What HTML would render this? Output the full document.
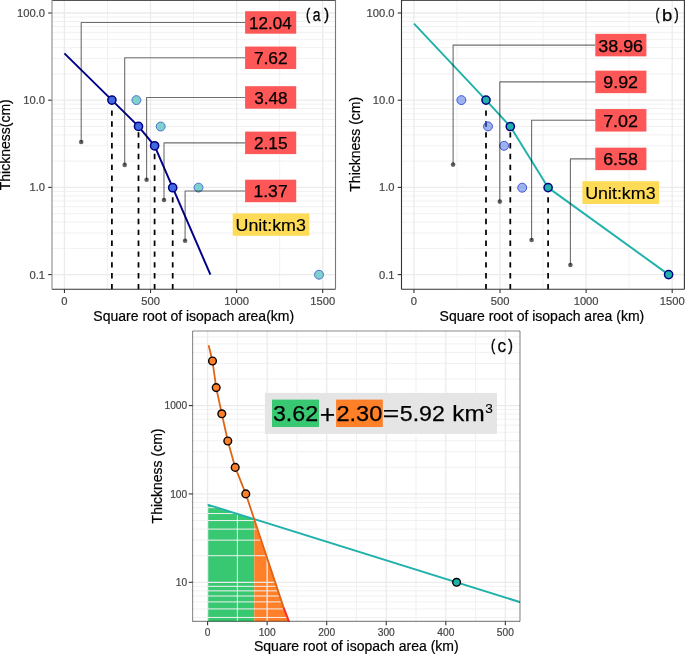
<!DOCTYPE html>
<html><head><meta charset="utf-8"><style>
html,body{margin:0;padding:0;background:#fff;overflow:hidden;}
svg{display:block;font-family:"Liberation Sans", sans-serif;will-change:transform;}
</style></head><body>
<svg width="685" height="654" viewBox="0 0 685 654">
<rect width="685" height="654" fill="#fff"/>
<line x1="52" y1="248.35" x2="335.5" y2="248.35" stroke="#F1F1F1" stroke-width="1"/>
<line x1="52" y1="233" x2="335.5" y2="233" stroke="#F1F1F1" stroke-width="1"/>
<line x1="52" y1="222.1" x2="335.5" y2="222.1" stroke="#F1F1F1" stroke-width="1"/>
<line x1="52" y1="213.65" x2="335.5" y2="213.65" stroke="#F1F1F1" stroke-width="1"/>
<line x1="52" y1="206.75" x2="335.5" y2="206.75" stroke="#F1F1F1" stroke-width="1"/>
<line x1="52" y1="200.91" x2="335.5" y2="200.91" stroke="#F1F1F1" stroke-width="1"/>
<line x1="52" y1="195.85" x2="335.5" y2="195.85" stroke="#F1F1F1" stroke-width="1"/>
<line x1="52" y1="191.39" x2="335.5" y2="191.39" stroke="#F1F1F1" stroke-width="1"/>
<line x1="52" y1="161.15" x2="335.5" y2="161.15" stroke="#F1F1F1" stroke-width="1"/>
<line x1="52" y1="145.8" x2="335.5" y2="145.8" stroke="#F1F1F1" stroke-width="1"/>
<line x1="52" y1="134.9" x2="335.5" y2="134.9" stroke="#F1F1F1" stroke-width="1"/>
<line x1="52" y1="126.45" x2="335.5" y2="126.45" stroke="#F1F1F1" stroke-width="1"/>
<line x1="52" y1="119.55" x2="335.5" y2="119.55" stroke="#F1F1F1" stroke-width="1"/>
<line x1="52" y1="113.71" x2="335.5" y2="113.71" stroke="#F1F1F1" stroke-width="1"/>
<line x1="52" y1="108.65" x2="335.5" y2="108.65" stroke="#F1F1F1" stroke-width="1"/>
<line x1="52" y1="104.19" x2="335.5" y2="104.19" stroke="#F1F1F1" stroke-width="1"/>
<line x1="52" y1="73.95" x2="335.5" y2="73.95" stroke="#F1F1F1" stroke-width="1"/>
<line x1="52" y1="58.6" x2="335.5" y2="58.6" stroke="#F1F1F1" stroke-width="1"/>
<line x1="52" y1="47.7" x2="335.5" y2="47.7" stroke="#F1F1F1" stroke-width="1"/>
<line x1="52" y1="39.25" x2="335.5" y2="39.25" stroke="#F1F1F1" stroke-width="1"/>
<line x1="52" y1="32.35" x2="335.5" y2="32.35" stroke="#F1F1F1" stroke-width="1"/>
<line x1="52" y1="26.51" x2="335.5" y2="26.51" stroke="#F1F1F1" stroke-width="1"/>
<line x1="52" y1="21.45" x2="335.5" y2="21.45" stroke="#F1F1F1" stroke-width="1"/>
<line x1="52" y1="16.99" x2="335.5" y2="16.99" stroke="#F1F1F1" stroke-width="1"/>
<line x1="107.49" y1="0" x2="107.49" y2="289.3" stroke="#F1F1F1" stroke-width="1"/>
<line x1="193.57" y1="0" x2="193.57" y2="289.3" stroke="#F1F1F1" stroke-width="1"/>
<line x1="279.65" y1="0" x2="279.65" y2="289.3" stroke="#F1F1F1" stroke-width="1"/>
<line x1="52" y1="274.6" x2="335.5" y2="274.6" stroke="#EBEBEB" stroke-width="1.3"/>
<line x1="52" y1="187.4" x2="335.5" y2="187.4" stroke="#EBEBEB" stroke-width="1.3"/>
<line x1="52" y1="100.2" x2="335.5" y2="100.2" stroke="#EBEBEB" stroke-width="1.3"/>
<line x1="52" y1="13" x2="335.5" y2="13" stroke="#EBEBEB" stroke-width="1.3"/>
<line x1="64.45" y1="0" x2="64.45" y2="289.3" stroke="#EBEBEB" stroke-width="1.3"/>
<line x1="150.53" y1="0" x2="150.53" y2="289.3" stroke="#EBEBEB" stroke-width="1.3"/>
<line x1="236.61" y1="0" x2="236.61" y2="289.3" stroke="#EBEBEB" stroke-width="1.3"/>
<line x1="322.69" y1="0" x2="322.69" y2="289.3" stroke="#EBEBEB" stroke-width="1.3"/>
<line x1="48.2" y1="274.6" x2="52" y2="274.6" stroke="#333333" stroke-width="1.1"/>
<text x="45.1" y="278.6" font-size="11.2" fill="#454545" text-anchor="end" stroke="#454545" stroke-width="0.2">0.1</text>
<line x1="48.2" y1="187.4" x2="52" y2="187.4" stroke="#333333" stroke-width="1.1"/>
<text x="45.1" y="191.4" font-size="11.2" fill="#454545" text-anchor="end" stroke="#454545" stroke-width="0.2">1.0</text>
<line x1="48.2" y1="100.2" x2="52" y2="100.2" stroke="#333333" stroke-width="1.1"/>
<text x="45.1" y="104.2" font-size="11.2" fill="#454545" text-anchor="end" stroke="#454545" stroke-width="0.2">10.0</text>
<line x1="48.2" y1="13" x2="52" y2="13" stroke="#333333" stroke-width="1.1"/>
<text x="45.1" y="17" font-size="11.2" fill="#454545" text-anchor="end" stroke="#454545" stroke-width="0.2">100.0</text>
<line x1="64.45" y1="289.3" x2="64.45" y2="293.1" stroke="#333333" stroke-width="1.1"/>
<text x="64.45" y="304.6" font-size="11.2" fill="#454545" text-anchor="middle" stroke="#454545" stroke-width="0.2">0</text>
<line x1="150.53" y1="289.3" x2="150.53" y2="293.1" stroke="#333333" stroke-width="1.1"/>
<text x="150.53" y="304.6" font-size="11.2" fill="#454545" text-anchor="middle" stroke="#454545" stroke-width="0.2">500</text>
<line x1="236.61" y1="289.3" x2="236.61" y2="293.1" stroke="#333333" stroke-width="1.1"/>
<text x="236.61" y="304.6" font-size="11.2" fill="#454545" text-anchor="middle" stroke="#454545" stroke-width="0.2">1000</text>
<line x1="322.69" y1="289.3" x2="322.69" y2="293.1" stroke="#333333" stroke-width="1.1"/>
<text x="322.69" y="304.6" font-size="11.2" fill="#454545" text-anchor="middle" stroke="#454545" stroke-width="0.2">1500</text>
<text x="193.75" y="320.5" font-size="14" fill="#000" text-anchor="middle" stroke="#000" stroke-width="0.2">Square root of isopach area(km)</text>
<text x="0" y="0" font-size="14" fill="#000" text-anchor="middle" stroke="#000" stroke-width="0.2" transform="translate(9.9,144.75) rotate(-90)">Thickness(cm)</text>
<line x1="111.9" y1="289.3" x2="111.9" y2="104.7" stroke="#000" stroke-width="1.75" stroke-dasharray="5.4 5.44"/>
<line x1="138.5" y1="289.3" x2="138.5" y2="131" stroke="#000" stroke-width="1.75" stroke-dasharray="5.4 5.44"/>
<line x1="154.6" y1="289.3" x2="154.6" y2="150.4" stroke="#000" stroke-width="1.75" stroke-dasharray="5.4 5.44"/>
<line x1="172.7" y1="289.3" x2="172.7" y2="192.3" stroke="#000" stroke-width="1.75" stroke-dasharray="5.4 5.44"/>
<polyline points="64.4,53.4 111.9,100.1 138.5,126.4 154.6,145.8 172.7,187.7 210.4,274.6" fill="none" stroke="#00008B" stroke-width="1.95" stroke-linejoin="round"/>
<circle cx="136.4" cy="100.1" r="4.45" fill="#7FD1CB" stroke="#4A6FD0" stroke-width="1"/>
<circle cx="160.7" cy="126.5" r="4.45" fill="#7FD1CB" stroke="#4A6FD0" stroke-width="1"/>
<circle cx="198.5" cy="187.6" r="4.45" fill="#7FD1CB" stroke="#4A6FD0" stroke-width="1"/>
<circle cx="319" cy="274.7" r="4.45" fill="#7FD1CB" stroke="#4A6FD0" stroke-width="1"/>
<circle cx="111.9" cy="100.1" r="4.1" fill="#4169E1" stroke="#000080" stroke-width="1.5"/>
<circle cx="138.5" cy="126.4" r="4.1" fill="#4169E1" stroke="#000080" stroke-width="1.5"/>
<circle cx="154.6" cy="145.8" r="4.1" fill="#4169E1" stroke="#000080" stroke-width="1.5"/>
<circle cx="172.7" cy="187.7" r="4.1" fill="#4169E1" stroke="#000080" stroke-width="1.5"/>
<polyline points="81.2,142 81.2,22.45 245.2,22.45" fill="none" stroke="rgba(0,0,0,0.57)" stroke-width="1.1" stroke-linejoin="round"/>
<circle cx="81.2" cy="142" r="2.3" fill="rgba(0,0,0,0.62)" stroke="none" stroke-width="0"/>
<polyline points="124.7,164.9 124.7,57.8 245.2,57.8" fill="none" stroke="rgba(0,0,0,0.57)" stroke-width="1.1" stroke-linejoin="round"/>
<circle cx="124.7" cy="164.9" r="2.3" fill="rgba(0,0,0,0.62)" stroke="none" stroke-width="0"/>
<polyline points="146.6,179.8 146.6,97.45 245.2,97.45" fill="none" stroke="rgba(0,0,0,0.57)" stroke-width="1.1" stroke-linejoin="round"/>
<circle cx="146.6" cy="179.8" r="2.3" fill="rgba(0,0,0,0.62)" stroke="none" stroke-width="0"/>
<polyline points="164,200 164,142.85 245.2,142.85" fill="none" stroke="rgba(0,0,0,0.57)" stroke-width="1.1" stroke-linejoin="round"/>
<circle cx="164" cy="200" r="2.3" fill="rgba(0,0,0,0.62)" stroke="none" stroke-width="0"/>
<polyline points="185.1,240.7 185.1,190.95 245.2,190.95" fill="none" stroke="rgba(0,0,0,0.57)" stroke-width="1.1" stroke-linejoin="round"/>
<circle cx="185.1" cy="240.7" r="2.3" fill="rgba(0,0,0,0.62)" stroke="none" stroke-width="0"/>
<rect x="245.1" y="11.2" width="51.1" height="22.5" fill="#FD5757"/>
<text x="249.11" y="28.89" font-size="15.68" fill="#000" textLength="42.61" lengthAdjust="spacingAndGlyphs" stroke="#000" stroke-width="0.25">12.04</text>
<rect x="245.1" y="46.55" width="51.1" height="22.5" fill="#FD5757"/>
<text x="253.9" y="64.24" font-size="15.68" fill="#000" textLength="33.78" lengthAdjust="spacingAndGlyphs" stroke="#000" stroke-width="0.25">7.62</text>
<rect x="245.1" y="86.2" width="51.1" height="22.5" fill="#FD5757"/>
<text x="254.15" y="103.89" font-size="15.68" fill="#000" textLength="33.41" lengthAdjust="spacingAndGlyphs" stroke="#000" stroke-width="0.25">3.48</text>
<rect x="245.1" y="131.6" width="51.1" height="22.5" fill="#FD5757"/>
<text x="253.94" y="149.29" font-size="15.68" fill="#000" textLength="33.59" lengthAdjust="spacingAndGlyphs" stroke="#000" stroke-width="0.25">2.15</text>
<rect x="245.1" y="179.7" width="51.1" height="22.5" fill="#FD5757"/>
<text x="253.46" y="197.39" font-size="15.68" fill="#000" textLength="34.22" lengthAdjust="spacingAndGlyphs" stroke="#000" stroke-width="0.25">1.37</text>
<rect x="232.7" y="213.4" width="76.7" height="22.4" fill="#FDDB57"/>
<text x="235.51" y="230.84" font-size="16.08" fill="#000" textLength="70.36" lengthAdjust="spacingAndGlyphs" stroke="#000" stroke-width="0.15">Unit:km3</text>
<text x="306.12" y="19.99" font-size="16.42" fill="#000" textLength="4.16" lengthAdjust="spacingAndGlyphs" stroke="#000" stroke-width="0.4">(</text>
<text x="312.81" y="21.22" font-size="18.07" fill="#000" textLength="7.79" lengthAdjust="spacingAndGlyphs" stroke="#000" stroke-width="0.25">a</text>
<text x="324.31" y="19.99" font-size="16.42" fill="#000" textLength="4.79" lengthAdjust="spacingAndGlyphs" stroke="#000" stroke-width="0.4">)</text>
<line x1="52" y1="0.45" x2="335.5" y2="0.45" stroke="#333" stroke-width="0.9"/>
<line x1="52" y1="289.3" x2="335.5" y2="289.3" stroke="#333" stroke-width="1.1"/>
<line x1="52" y1="0" x2="52" y2="289.3" stroke="#8a8a8a" stroke-width="1.1"/>
<line x1="335.5" y1="0" x2="335.5" y2="289.3" stroke="#777" stroke-width="1.1"/>
<line x1="401.5" y1="248.35" x2="684.4" y2="248.35" stroke="#F1F1F1" stroke-width="1"/>
<line x1="401.5" y1="233" x2="684.4" y2="233" stroke="#F1F1F1" stroke-width="1"/>
<line x1="401.5" y1="222.1" x2="684.4" y2="222.1" stroke="#F1F1F1" stroke-width="1"/>
<line x1="401.5" y1="213.65" x2="684.4" y2="213.65" stroke="#F1F1F1" stroke-width="1"/>
<line x1="401.5" y1="206.75" x2="684.4" y2="206.75" stroke="#F1F1F1" stroke-width="1"/>
<line x1="401.5" y1="200.91" x2="684.4" y2="200.91" stroke="#F1F1F1" stroke-width="1"/>
<line x1="401.5" y1="195.85" x2="684.4" y2="195.85" stroke="#F1F1F1" stroke-width="1"/>
<line x1="401.5" y1="191.39" x2="684.4" y2="191.39" stroke="#F1F1F1" stroke-width="1"/>
<line x1="401.5" y1="161.15" x2="684.4" y2="161.15" stroke="#F1F1F1" stroke-width="1"/>
<line x1="401.5" y1="145.8" x2="684.4" y2="145.8" stroke="#F1F1F1" stroke-width="1"/>
<line x1="401.5" y1="134.9" x2="684.4" y2="134.9" stroke="#F1F1F1" stroke-width="1"/>
<line x1="401.5" y1="126.45" x2="684.4" y2="126.45" stroke="#F1F1F1" stroke-width="1"/>
<line x1="401.5" y1="119.55" x2="684.4" y2="119.55" stroke="#F1F1F1" stroke-width="1"/>
<line x1="401.5" y1="113.71" x2="684.4" y2="113.71" stroke="#F1F1F1" stroke-width="1"/>
<line x1="401.5" y1="108.65" x2="684.4" y2="108.65" stroke="#F1F1F1" stroke-width="1"/>
<line x1="401.5" y1="104.19" x2="684.4" y2="104.19" stroke="#F1F1F1" stroke-width="1"/>
<line x1="401.5" y1="73.95" x2="684.4" y2="73.95" stroke="#F1F1F1" stroke-width="1"/>
<line x1="401.5" y1="58.6" x2="684.4" y2="58.6" stroke="#F1F1F1" stroke-width="1"/>
<line x1="401.5" y1="47.7" x2="684.4" y2="47.7" stroke="#F1F1F1" stroke-width="1"/>
<line x1="401.5" y1="39.25" x2="684.4" y2="39.25" stroke="#F1F1F1" stroke-width="1"/>
<line x1="401.5" y1="32.35" x2="684.4" y2="32.35" stroke="#F1F1F1" stroke-width="1"/>
<line x1="401.5" y1="26.51" x2="684.4" y2="26.51" stroke="#F1F1F1" stroke-width="1"/>
<line x1="401.5" y1="21.45" x2="684.4" y2="21.45" stroke="#F1F1F1" stroke-width="1"/>
<line x1="401.5" y1="16.99" x2="684.4" y2="16.99" stroke="#F1F1F1" stroke-width="1"/>
<line x1="456.99" y1="0" x2="456.99" y2="289.3" stroke="#F1F1F1" stroke-width="1"/>
<line x1="543.07" y1="0" x2="543.07" y2="289.3" stroke="#F1F1F1" stroke-width="1"/>
<line x1="629.15" y1="0" x2="629.15" y2="289.3" stroke="#F1F1F1" stroke-width="1"/>
<line x1="401.5" y1="274.6" x2="684.4" y2="274.6" stroke="#EBEBEB" stroke-width="1.3"/>
<line x1="401.5" y1="187.4" x2="684.4" y2="187.4" stroke="#EBEBEB" stroke-width="1.3"/>
<line x1="401.5" y1="100.2" x2="684.4" y2="100.2" stroke="#EBEBEB" stroke-width="1.3"/>
<line x1="401.5" y1="13" x2="684.4" y2="13" stroke="#EBEBEB" stroke-width="1.3"/>
<line x1="413.95" y1="0" x2="413.95" y2="289.3" stroke="#EBEBEB" stroke-width="1.3"/>
<line x1="500.03" y1="0" x2="500.03" y2="289.3" stroke="#EBEBEB" stroke-width="1.3"/>
<line x1="586.11" y1="0" x2="586.11" y2="289.3" stroke="#EBEBEB" stroke-width="1.3"/>
<line x1="672.19" y1="0" x2="672.19" y2="289.3" stroke="#EBEBEB" stroke-width="1.3"/>
<line x1="397.7" y1="274.6" x2="401.5" y2="274.6" stroke="#333333" stroke-width="1.1"/>
<text x="394.6" y="278.6" font-size="11.2" fill="#454545" text-anchor="end" stroke="#454545" stroke-width="0.2">0.1</text>
<line x1="397.7" y1="187.4" x2="401.5" y2="187.4" stroke="#333333" stroke-width="1.1"/>
<text x="394.6" y="191.4" font-size="11.2" fill="#454545" text-anchor="end" stroke="#454545" stroke-width="0.2">1.0</text>
<line x1="397.7" y1="100.2" x2="401.5" y2="100.2" stroke="#333333" stroke-width="1.1"/>
<text x="394.6" y="104.2" font-size="11.2" fill="#454545" text-anchor="end" stroke="#454545" stroke-width="0.2">10.0</text>
<line x1="397.7" y1="13" x2="401.5" y2="13" stroke="#333333" stroke-width="1.1"/>
<text x="394.6" y="17" font-size="11.2" fill="#454545" text-anchor="end" stroke="#454545" stroke-width="0.2">100.0</text>
<line x1="413.95" y1="289.3" x2="413.95" y2="293.1" stroke="#333333" stroke-width="1.1"/>
<text x="413.95" y="304.6" font-size="11.2" fill="#454545" text-anchor="middle" stroke="#454545" stroke-width="0.2">0</text>
<line x1="500.03" y1="289.3" x2="500.03" y2="293.1" stroke="#333333" stroke-width="1.1"/>
<text x="500.03" y="304.6" font-size="11.2" fill="#454545" text-anchor="middle" stroke="#454545" stroke-width="0.2">500</text>
<line x1="586.11" y1="289.3" x2="586.11" y2="293.1" stroke="#333333" stroke-width="1.1"/>
<text x="586.11" y="304.6" font-size="11.2" fill="#454545" text-anchor="middle" stroke="#454545" stroke-width="0.2">1000</text>
<line x1="672.19" y1="289.3" x2="672.19" y2="293.1" stroke="#333333" stroke-width="1.1"/>
<text x="672.19" y="304.6" font-size="11.2" fill="#454545" text-anchor="middle" stroke="#454545" stroke-width="0.2">1500</text>
<text x="541.95" y="320.5" font-size="14" fill="#000" text-anchor="middle" stroke="#000" stroke-width="0.2">Square root of isopach area (km)</text>
<text x="0" y="0" font-size="14" fill="#000" text-anchor="middle" stroke="#000" stroke-width="0.2" transform="translate(360.4,144.25) rotate(-90)">Thickness (cm)</text>
<line x1="486" y1="289.3" x2="486" y2="104.7" stroke="#000" stroke-width="1.75" stroke-dasharray="5.4 5.44"/>
<line x1="510.3" y1="289.3" x2="510.3" y2="131.1" stroke="#000" stroke-width="1.75" stroke-dasharray="5.4 5.44"/>
<line x1="548.1" y1="289.3" x2="548.1" y2="192.2" stroke="#000" stroke-width="1.75" stroke-dasharray="5.4 5.44"/>
<polyline points="414,23.7 486,100.1 510.3,126.5 548.1,187.6 668.6,274.6" fill="none" stroke="#20B2AA" stroke-width="1.95" stroke-linejoin="round"/>
<circle cx="461.4" cy="100.1" r="4.45" fill="rgba(65,105,225,0.5)" stroke="#3A55D8" stroke-width="1"/>
<circle cx="488" cy="126.4" r="4.45" fill="rgba(65,105,225,0.5)" stroke="#3A55D8" stroke-width="1"/>
<circle cx="504.1" cy="145.8" r="4.45" fill="rgba(65,105,225,0.5)" stroke="#3A55D8" stroke-width="1"/>
<circle cx="522.2" cy="187.7" r="4.45" fill="rgba(65,105,225,0.5)" stroke="#3A55D8" stroke-width="1"/>
<circle cx="486" cy="100.1" r="4.1" fill="#20B2AA" stroke="#000080" stroke-width="1.5"/>
<circle cx="510.3" cy="126.5" r="4.1" fill="#20B2AA" stroke="#000080" stroke-width="1.5"/>
<circle cx="548.1" cy="187.6" r="4.1" fill="#20B2AA" stroke="#000080" stroke-width="1.5"/>
<circle cx="668.6" cy="274.6" r="4.1" fill="#20B2AA" stroke="#000080" stroke-width="1.5"/>
<polyline points="453.1,164.6 453.1,45.1 595.4,45.1" fill="none" stroke="rgba(0,0,0,0.57)" stroke-width="1.1" stroke-linejoin="round"/>
<circle cx="453.1" cy="164.6" r="2.3" fill="rgba(0,0,0,0.62)" stroke="none" stroke-width="0"/>
<polyline points="499.8,201.6 499.8,81.9 595.4,81.9" fill="none" stroke="rgba(0,0,0,0.57)" stroke-width="1.1" stroke-linejoin="round"/>
<circle cx="499.8" cy="201.6" r="2.3" fill="rgba(0,0,0,0.62)" stroke="none" stroke-width="0"/>
<polyline points="531.6,240 531.6,120.3 595.4,120.3" fill="none" stroke="rgba(0,0,0,0.57)" stroke-width="1.1" stroke-linejoin="round"/>
<circle cx="531.6" cy="240" r="2.3" fill="rgba(0,0,0,0.62)" stroke="none" stroke-width="0"/>
<polyline points="570.4,265 570.4,158.9 595.4,158.9" fill="none" stroke="rgba(0,0,0,0.57)" stroke-width="1.1" stroke-linejoin="round"/>
<circle cx="570.4" cy="265" r="2.3" fill="rgba(0,0,0,0.62)" stroke="none" stroke-width="0"/>
<rect x="595.3" y="33.85" width="51.1" height="22.5" fill="#FD5757"/>
<text x="598.22" y="51.54" font-size="15.68" fill="#000" textLength="44.88" lengthAdjust="spacingAndGlyphs" stroke="#000" stroke-width="0.25">38.96</text>
<rect x="595.3" y="70.65" width="51.1" height="22.5" fill="#FD5757"/>
<text x="603.28" y="88.34" font-size="15.68" fill="#000" textLength="34.72" lengthAdjust="spacingAndGlyphs" stroke="#000" stroke-width="0.25">9.92</text>
<rect x="595.3" y="109.05" width="51.1" height="22.5" fill="#FD5757"/>
<text x="603.17" y="126.74" font-size="15.68" fill="#000" textLength="34.83" lengthAdjust="spacingAndGlyphs" stroke="#000" stroke-width="0.25">7.02</text>
<rect x="595.3" y="147.65" width="51.1" height="22.5" fill="#FD5757"/>
<text x="603.21" y="165.34" font-size="15.68" fill="#000" textLength="34.68" lengthAdjust="spacingAndGlyphs" stroke="#000" stroke-width="0.25">6.58</text>
<rect x="582.4" y="181.2" width="76.8" height="22.8" fill="#FDDB57"/>
<text x="585.21" y="198.64" font-size="16.08" fill="#000" textLength="70.36" lengthAdjust="spacingAndGlyphs" stroke="#000" stroke-width="0.15">Unit:km3</text>
<text x="655.57" y="20.11" font-size="16.31" fill="#000" textLength="3.91" lengthAdjust="spacingAndGlyphs" stroke="#000" stroke-width="0.4">(</text>
<text x="661.92" y="21.03" font-size="17.3" fill="#000" textLength="10.26" lengthAdjust="spacingAndGlyphs" stroke="#000" stroke-width="0.25">b</text>
<text x="674.42" y="20.11" font-size="16.31" fill="#000" textLength="4.16" lengthAdjust="spacingAndGlyphs" stroke="#000" stroke-width="0.4">)</text>
<line x1="401.5" y1="0.45" x2="684.4" y2="0.45" stroke="#333" stroke-width="0.9"/>
<line x1="401.5" y1="289.3" x2="684.4" y2="289.3" stroke="#333" stroke-width="1.1"/>
<line x1="401.5" y1="0" x2="401.5" y2="289.3" stroke="#333" stroke-width="1.1"/>
<line x1="684.4" y1="0" x2="684.4" y2="289.3" stroke="#333" stroke-width="1.1"/>
<polygon points="207.6,504.6 254.3,519.18 254.3,621.4 207.6,621.4" fill="#39C872"/>
<polygon points="254.3,518.88 289,621.4 254.3,621.4" fill="#FF8028"/>
<line x1="192.6" y1="617.46" x2="520" y2="617.46" stroke="#F1F1F1" stroke-width="1"/>
<line x1="192.6" y1="608.9" x2="520" y2="608.9" stroke="#F1F1F1" stroke-width="1"/>
<line x1="192.6" y1="601.9" x2="520" y2="601.9" stroke="#F1F1F1" stroke-width="1"/>
<line x1="192.6" y1="595.99" x2="520" y2="595.99" stroke="#F1F1F1" stroke-width="1"/>
<line x1="192.6" y1="590.86" x2="520" y2="590.86" stroke="#F1F1F1" stroke-width="1"/>
<line x1="192.6" y1="586.34" x2="520" y2="586.34" stroke="#F1F1F1" stroke-width="1"/>
<line x1="192.6" y1="555.7" x2="520" y2="555.7" stroke="#F1F1F1" stroke-width="1"/>
<line x1="192.6" y1="540.15" x2="520" y2="540.15" stroke="#F1F1F1" stroke-width="1"/>
<line x1="192.6" y1="529.11" x2="520" y2="529.11" stroke="#F1F1F1" stroke-width="1"/>
<line x1="192.6" y1="520.55" x2="520" y2="520.55" stroke="#F1F1F1" stroke-width="1"/>
<line x1="192.6" y1="513.55" x2="520" y2="513.55" stroke="#F1F1F1" stroke-width="1"/>
<line x1="192.6" y1="507.64" x2="520" y2="507.64" stroke="#F1F1F1" stroke-width="1"/>
<line x1="192.6" y1="502.51" x2="520" y2="502.51" stroke="#F1F1F1" stroke-width="1"/>
<line x1="192.6" y1="497.99" x2="520" y2="497.99" stroke="#F1F1F1" stroke-width="1"/>
<line x1="192.6" y1="467.35" x2="520" y2="467.35" stroke="#F1F1F1" stroke-width="1"/>
<line x1="192.6" y1="451.8" x2="520" y2="451.8" stroke="#F1F1F1" stroke-width="1"/>
<line x1="192.6" y1="440.76" x2="520" y2="440.76" stroke="#F1F1F1" stroke-width="1"/>
<line x1="192.6" y1="432.2" x2="520" y2="432.2" stroke="#F1F1F1" stroke-width="1"/>
<line x1="192.6" y1="425.2" x2="520" y2="425.2" stroke="#F1F1F1" stroke-width="1"/>
<line x1="192.6" y1="419.29" x2="520" y2="419.29" stroke="#F1F1F1" stroke-width="1"/>
<line x1="192.6" y1="414.16" x2="520" y2="414.16" stroke="#F1F1F1" stroke-width="1"/>
<line x1="192.6" y1="409.64" x2="520" y2="409.64" stroke="#F1F1F1" stroke-width="1"/>
<line x1="192.6" y1="379" x2="520" y2="379" stroke="#F1F1F1" stroke-width="1"/>
<line x1="192.6" y1="363.45" x2="520" y2="363.45" stroke="#F1F1F1" stroke-width="1"/>
<line x1="192.6" y1="352.41" x2="520" y2="352.41" stroke="#F1F1F1" stroke-width="1"/>
<line x1="192.6" y1="343.85" x2="520" y2="343.85" stroke="#F1F1F1" stroke-width="1"/>
<line x1="192.6" y1="336.85" x2="520" y2="336.85" stroke="#F1F1F1" stroke-width="1"/>
<line x1="237.38" y1="331" x2="237.38" y2="621.4" stroke="#F1F1F1" stroke-width="1"/>
<line x1="296.93" y1="331" x2="296.93" y2="621.4" stroke="#F1F1F1" stroke-width="1"/>
<line x1="356.48" y1="331" x2="356.48" y2="621.4" stroke="#F1F1F1" stroke-width="1"/>
<line x1="416.02" y1="331" x2="416.02" y2="621.4" stroke="#F1F1F1" stroke-width="1"/>
<line x1="475.58" y1="331" x2="475.58" y2="621.4" stroke="#F1F1F1" stroke-width="1"/>
<line x1="192.6" y1="582.3" x2="520" y2="582.3" stroke="#EBEBEB" stroke-width="1.3"/>
<line x1="192.6" y1="493.95" x2="520" y2="493.95" stroke="#EBEBEB" stroke-width="1.3"/>
<line x1="192.6" y1="405.6" x2="520" y2="405.6" stroke="#EBEBEB" stroke-width="1.3"/>
<line x1="207.6" y1="331" x2="207.6" y2="621.4" stroke="#EBEBEB" stroke-width="1.3"/>
<line x1="267.15" y1="331" x2="267.15" y2="621.4" stroke="#EBEBEB" stroke-width="1.3"/>
<line x1="326.7" y1="331" x2="326.7" y2="621.4" stroke="#EBEBEB" stroke-width="1.3"/>
<line x1="386.25" y1="331" x2="386.25" y2="621.4" stroke="#EBEBEB" stroke-width="1.3"/>
<line x1="445.8" y1="331" x2="445.8" y2="621.4" stroke="#EBEBEB" stroke-width="1.3"/>
<line x1="505.35" y1="331" x2="505.35" y2="621.4" stroke="#EBEBEB" stroke-width="1.3"/>
<line x1="188.8" y1="582.3" x2="192.6" y2="582.3" stroke="#333333" stroke-width="1.1"/>
<text x="187.2" y="585.9" font-size="10.2" fill="#454545" text-anchor="end" stroke="#454545" stroke-width="0.2">10</text>
<line x1="188.8" y1="493.95" x2="192.6" y2="493.95" stroke="#333333" stroke-width="1.1"/>
<text x="187.2" y="497.55" font-size="10.2" fill="#454545" text-anchor="end" stroke="#454545" stroke-width="0.2">100</text>
<line x1="188.8" y1="405.6" x2="192.6" y2="405.6" stroke="#333333" stroke-width="1.1"/>
<text x="187.2" y="409.2" font-size="10.2" fill="#454545" text-anchor="end" stroke="#454545" stroke-width="0.2">1000</text>
<line x1="207.6" y1="621.4" x2="207.6" y2="625.2" stroke="#333333" stroke-width="1.1"/>
<text x="207.6" y="635.5" font-size="10.2" fill="#454545" text-anchor="middle" stroke="#454545" stroke-width="0.2">0</text>
<line x1="267.15" y1="621.4" x2="267.15" y2="625.2" stroke="#333333" stroke-width="1.1"/>
<text x="267.15" y="635.5" font-size="10.2" fill="#454545" text-anchor="middle" stroke="#454545" stroke-width="0.2">100</text>
<line x1="326.7" y1="621.4" x2="326.7" y2="625.2" stroke="#333333" stroke-width="1.1"/>
<text x="326.7" y="635.5" font-size="10.2" fill="#454545" text-anchor="middle" stroke="#454545" stroke-width="0.2">200</text>
<line x1="386.25" y1="621.4" x2="386.25" y2="625.2" stroke="#333333" stroke-width="1.1"/>
<text x="386.25" y="635.5" font-size="10.2" fill="#454545" text-anchor="middle" stroke="#454545" stroke-width="0.2">300</text>
<line x1="445.8" y1="621.4" x2="445.8" y2="625.2" stroke="#333333" stroke-width="1.1"/>
<text x="445.8" y="635.5" font-size="10.2" fill="#454545" text-anchor="middle" stroke="#454545" stroke-width="0.2">400</text>
<line x1="505.35" y1="621.4" x2="505.35" y2="625.2" stroke="#333333" stroke-width="1.1"/>
<text x="505.35" y="635.5" font-size="10.2" fill="#454545" text-anchor="middle" stroke="#454545" stroke-width="0.2">500</text>
<text x="356.3" y="650.6" font-size="14" fill="#000" text-anchor="middle" stroke="#000" stroke-width="0.2">Square root of isopach area (km)</text>
<text x="0" y="0" font-size="14" fill="#000" text-anchor="middle" stroke="#000" stroke-width="0.2" transform="translate(161.9,475.95) rotate(-90)">Thickness (cm)</text>
<clipPath id="cc"><rect x="192.6" y="331.0" width="327.4" height="290.4"/></clipPath>
<g clip-path="url(#cc)">
<line x1="207.6" y1="504.6" x2="522" y2="602.75" stroke="#20B2AA" stroke-width="1.95"/>
<polyline points="208.6,345.2 212.5,361 216.2,387.6 221.8,413.8 227.8,441 235.2,467.4 245.8,493.9 283.6,607.6" fill="none" stroke="#DF6414" stroke-width="1.8" stroke-linejoin="round"/>
<line x1="283.6" y1="607.6" x2="289.2" y2="622" stroke="#FF2A2A" stroke-width="2"/>
</g>
<circle cx="456.6" cy="582.3" r="3.85" fill="#20B2AA" stroke="#000" stroke-width="1.4"/>
<circle cx="212.5" cy="361" r="3.85" fill="#FF8028" stroke="#000" stroke-width="1.4"/>
<circle cx="216.2" cy="387.6" r="3.85" fill="#FF8028" stroke="#000" stroke-width="1.4"/>
<circle cx="221.8" cy="413.8" r="3.85" fill="#FF8028" stroke="#000" stroke-width="1.4"/>
<circle cx="227.8" cy="441" r="3.85" fill="#FF8028" stroke="#000" stroke-width="1.4"/>
<circle cx="235.2" cy="467.4" r="3.85" fill="#FF8028" stroke="#000" stroke-width="1.4"/>
<circle cx="245.8" cy="493.9" r="3.85" fill="#FF8028" stroke="#000" stroke-width="1.4"/>
<rect x="264.9" y="392.9" width="232.1" height="41" fill="#E5E5E5"/>
<rect x="272" y="399.6" width="47" height="27.4" fill="#39C872"/>
<rect x="336.1" y="399.6" width="46.7" height="27.4" fill="#FF8028"/>
<text x="272.92" y="421.38" font-size="22.46" fill="#000" textLength="45.25" lengthAdjust="spacingAndGlyphs" stroke="#000" stroke-width="0.25">3.62</text>
<text x="319.73" y="422.88" font-size="25.92" fill="#000" textLength="15.5" lengthAdjust="spacingAndGlyphs" stroke="#000" stroke-width="0.25">+</text>
<text x="336.42" y="421.38" font-size="22.46" fill="#000" textLength="45.88" lengthAdjust="spacingAndGlyphs" stroke="#000" stroke-width="0.25">2.30</text>
<text x="382.65" y="421" font-size="21.43" fill="#000" textLength="16.46" lengthAdjust="spacingAndGlyphs" stroke="#000" stroke-width="0.25">=</text>
<text x="399.77" y="421.38" font-size="22.46" fill="#000" textLength="45.09" lengthAdjust="spacingAndGlyphs" stroke="#000" stroke-width="0.25">5.92</text>
<text x="452.35" y="421.3" font-size="21.96" fill="#000" textLength="32.33" lengthAdjust="spacingAndGlyphs" stroke="#000" stroke-width="0.25">km</text>
<text x="485.28" y="412.57" font-size="13.14" fill="#000" textLength="7.63" lengthAdjust="spacingAndGlyphs" stroke="#000" stroke-width="0.12">3</text>
<text x="491.12" y="350.87" font-size="16.95" fill="#000" textLength="4.16" lengthAdjust="spacingAndGlyphs" stroke="#000" stroke-width="0.4">(</text>
<text x="497.48" y="352.02" font-size="17.7" fill="#000" textLength="8.56" lengthAdjust="spacingAndGlyphs" stroke="#000" stroke-width="0.25">c</text>
<text x="508.32" y="350.87" font-size="16.95" fill="#000" textLength="4.67" lengthAdjust="spacingAndGlyphs" stroke="#000" stroke-width="0.4">)</text>
<line x1="192.6" y1="331" x2="520" y2="331" stroke="rgba(0,0,0,0.46)" stroke-width="1.1"/>
<line x1="192.6" y1="621.4" x2="520" y2="621.4" stroke="rgba(0,0,0,0.46)" stroke-width="1.1"/>
<line x1="192.6" y1="331" x2="192.6" y2="621.4" stroke="rgba(0,0,0,0.46)" stroke-width="1.1"/>
<line x1="520" y1="331" x2="520" y2="621.4" stroke="rgba(0,0,0,0.46)" stroke-width="1.1"/>
</svg>
</body></html>
